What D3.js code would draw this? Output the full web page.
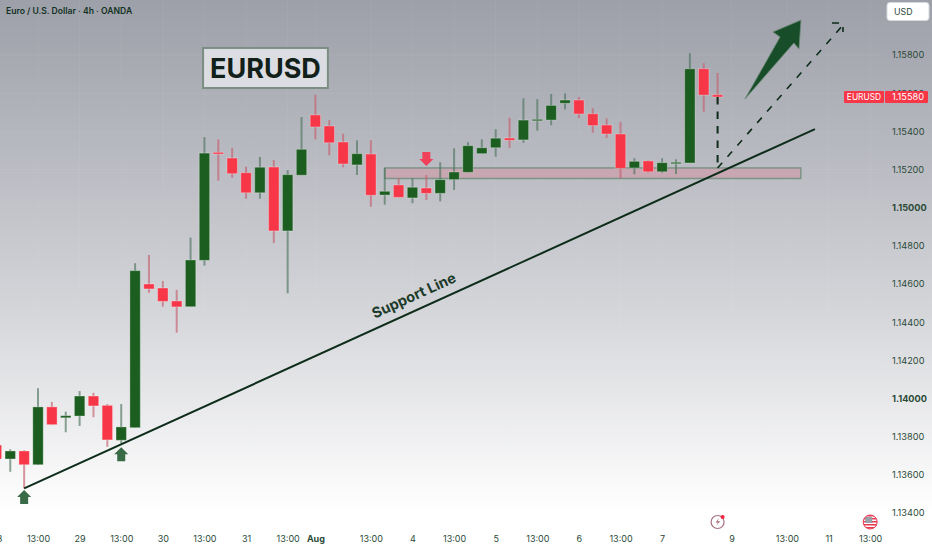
<!DOCTYPE html>
<html>
<head>
<meta charset="utf-8">
<script src="https://cdn.jsdelivr.net/npm/d3@7"></script>
<style>
  html, body { margin: 0; padding: 0; background: #fff; overflow: hidden; }
  svg { display: block; font-family: Inter, "Noto Sans", sans-serif; }
</style>
</head>
<body>
<div class="graph"></div>
<script>
const width = 932;
const height = 550;

// candles, EURUSD 4h, index 0 is the bar under the "28" label
const opens = [1.13756, 1.13683, 1.13725, 1.13653, 1.13956, 1.13899, 1.13908, 1.14013, 1.13964, 1.13781,
  1.13847, 1.146, 1.14579, 1.14511, 1.14481, 1.14724, 1.1529, 1.1526, 1.15183, 1.15078,
  1.15213, 1.14878, 1.1517, 1.15486, 1.15428, 1.15344, 1.15224, 1.15281, 1.15066, 1.15119,
  1.15051, 1.15103, 1.15075, 1.15147, 1.15185, 1.15283, 1.15314, 1.15365, 1.15355, 1.15456,
  1.15459, 1.15547, 1.15564, 1.15492, 1.15433, 1.15386, 1.15208, 1.15245, 1.15188, 1.15234,
  1.15234, 1.15728, 1.15592];
const closes = [1.13683, 1.13725, 1.13653, 1.13956, 1.13863, 1.1391, 1.14013, 1.13961, 1.13783, 1.13851,
  1.1467, 1.14574, 1.14509, 1.1448, 1.14726, 1.15286, 1.15281, 1.15178, 1.15078, 1.15212,
  1.14878, 1.15173, 1.15306, 1.15423, 1.1534, 1.15229, 1.15283, 1.15065, 1.15086, 1.15054,
  1.15107, 1.15075, 1.15147, 1.15187, 1.15325, 1.15314, 1.15364, 1.15353, 1.15459, 1.15463,
  1.15536, 1.15564, 1.15491, 1.1543, 1.15386, 1.15206, 1.15243, 1.15188, 1.15236, 1.15238,
  1.15728, 1.1559, 1.1558];
const highs = [1.13756, 1.13734, 1.13729, 1.14054, 1.13982, 1.13931, 1.14039, 1.1403, 1.13971, 1.13971,
  1.14709, 1.14752, 1.14616, 1.14569, 1.14843, 1.1537, 1.15358, 1.15313, 1.15215, 1.15266,
  1.1525, 1.15197, 1.15475, 1.15592, 1.15459, 1.15388, 1.15353, 1.15353, 1.15208, 1.15154,
  1.15154, 1.15171, 1.15238, 1.15311, 1.15343, 1.15358, 1.15411, 1.15471, 1.15573, 1.15569,
  1.15596, 1.15599, 1.1558, 1.15521, 1.15468, 1.1545, 1.15259, 1.15248, 1.15259, 1.15253,
  1.15809, 1.15757, 1.15706];
const lows = [1.13667, 1.13616, 1.13529, 1.13653, 1.13863, 1.13823, 1.13856, 1.13902, 1.13747, 1.13765,
  1.13847, 1.14554, 1.14481, 1.14345, 1.14481, 1.14696, 1.15141, 1.15157, 1.15047, 1.15047,
  1.14815, 1.14551, 1.1517, 1.15358, 1.15274, 1.15212, 1.15171, 1.15005, 1.15016, 1.15054,
  1.15023, 1.1504, 1.15033, 1.15093, 1.15185, 1.15283, 1.15267, 1.15314, 1.1534, 1.15403,
  1.15432, 1.15515, 1.1547, 1.15393, 1.15365, 1.15154, 1.15175, 1.15183, 1.15183, 1.15176,
  1.15234, 1.15503, 1.15548];

// axis ticks
const timeTicks = [0, 3, 6, 9, 12, 15, 18, 21, 23, 27, 30, 33, 36, 39, 42, 45, 48, 53, 57, 60, 63];
const timeLabels = ['28', '13:00', '29', '13:00', '30', '13:00', '31', '13:00', 'Aug', '13:00', '4', '13:00', '5',
  '13:00', '6', '13:00', '7', '9', '13:00', '11', '13:00'];
const priceTicks = [1.134, 1.136, 1.138, 1.14, 1.142, 1.144, 1.146, 1.148, 1.15, 1.152, 1.154, 1.156, 1.158];
const boldPrices = [1.14, 1.15];
const lastPrice = 1.1558;

// drawings, [bar index, price]
const supportLine = [[2, 1.13529], [59.02, 1.15412]];
const supportLabel = [30.25, 1.14516];
const zoneX = [28, 58];
const zonePrice = [1.15208, 1.15153];
const dropLine = [[52, 1.1558], [52, 1.15208]];
const targetLine = [[52, 1.15208], [61.04, 1.15957]];
const targetHead = [[60.25, 1.15968], [61.04, 1.15968], [61.04, 1.15921]];
const bigArrow = [[53.97, 1.15569], [56.5, 1.15894], [55.99, 1.15921], [58.01, 1.15983], [57.87, 1.15831], [57.5, 1.15863]];
const titleBoxX = [14.9, 23.9];
const titleBoxPrice = [1.15837, 1.15627];
const markers = [
  {i: 2, price: 1.13521, dir: 1},
  {i: 9, price: 1.13744, dir: 1},
  {i: 31, price: 1.15218, dir: -1}
];

const green = '#1b5e20';
const red = '#f73648';
const ink = '#0d2c1a';
const axisInk = '#2b4a38';

const x = d3.scaleLinear().domain([0, 52]).range([-3.6, 717.6]);
const y = d3.scaleLinear().domain([1.134, 1.158]).range([513, 55]);
const pathLine = d3.line().x(d => x(d[0])).y(d => y(d[1]));

const svg = d3.select('.graph').append('svg')
  .attr('width', width)
  .attr('height', height);

// background
const defs = svg.append('defs');
const grad = defs.append('linearGradient')
  .attr('id', 'bg')
  .attr('x1', 0).attr('y1', 0).attr('x2', 0).attr('y2', 1);
grad.append('stop').attr('offset', '0%').attr('stop-color', '#9d9fa9');
grad.append('stop').attr('offset', '55%').attr('stop-color', '#d3d4d8');
grad.append('stop').attr('offset', '93%').attr('stop-color', '#ffffff');
svg.append('rect').attr('width', width).attr('height', height).attr('fill', 'url(#bg)');

// faint grid
const grid = svg.append('g').attr('stroke', '#ffffff').attr('stroke-opacity', 0.05);
grid.selectAll('.gx').data(timeTicks).join('line')
  .attr('x1', d => x(d)).attr('x2', d => x(d))
  .attr('y1', 0).attr('y2', 530);
grid.selectAll('.gy').data(priceTicks).join('line')
  .attr('x1', 0).attr('x2', 885)
  .attr('y1', d => y(d)).attr('y2', d => y(d));

// zone under the candles
svg.append('rect')
  .attr('x', x(zoneX[0]))
  .attr('y', y(zonePrice[0]))
  .attr('width', x(zoneX[1]) - x(zoneX[0]))
  .attr('height', y(zonePrice[1]) - y(zonePrice[0]))
  .attr('fill', '#c9a7b2')
  .attr('stroke', '#7c9486')
  .attr('stroke-width', 1.5);

// candles
const candles = d3.range(opens.length);
const isUp = i => closes[i] >= opens[i];
svg.append('g').selectAll('line').data(candles).join('line')
  .attr('x1', d => x(d)).attr('x2', d => x(d))
  .attr('y1', d => y(highs[d])).attr('y2', d => y(lows[d]))
  .attr('stroke', d => isUp(d) ? '#4f7560' : '#c4606f')
  .attr('stroke-opacity', 0.65)
  .attr('stroke-width', 2);
svg.append('g').selectAll('rect').data(candles).join('rect')
  .attr('x', d => x(d) - 5.2)
  .attr('width', 10.4)
  .attr('y', d => y(Math.max(opens[d], closes[d])))
  .attr('height', d => Math.max(1.5, Math.abs(y(opens[d]) - y(closes[d]))))
  .attr('fill', d => isUp(d) ? green : red)
  .attr('stroke', '#ffffff')
  .attr('stroke-opacity', 0.3)
  .attr('stroke-width', 1);

// support line and its label
svg.append('path')
  .attr('d', pathLine(supportLine))
  .attr('fill', 'none')
  .attr('stroke', ink)
  .attr('stroke-width', 2);
const supportAngle = Math.atan2(y(supportLine[1][1]) - y(supportLine[0][1]), x(supportLine[1][0]) - x(supportLine[0][0])) * 180 / Math.PI;
svg.append('text')
  .attr('transform', `translate(${x(supportLabel[0])},${y(supportLabel[1])}) rotate(${supportAngle})`)
  .attr('text-anchor', 'middle')
  .attr('font-size', 14.5)
  .attr('font-weight', 700)
  .attr('fill', '#1c3a2a')
  .text('Support Line');

// dashed projection
svg.append('path')
  .attr('d', pathLine(dropLine))
  .attr('fill', 'none')
  .attr('stroke', ink)
  .attr('stroke-width', 2)
  .attr('stroke-dasharray', '7.5 7');
[targetLine, targetHead].forEach(pts => {
  svg.append('path')
    .attr('d', pathLine(pts))
    .attr('fill', 'none')
    .attr('stroke', ink)
    .attr('stroke-width', 1.6)
    .attr('stroke-dasharray', '7 8');
});

// big arrow
svg.append('path')
  .attr('d', pathLine(bigArrow) + 'Z')
  .attr('fill', '#174d29')
  .attr('stroke', '#6f8a78')
  .attr('stroke-width', 0.8);

// small arrows
const arrowShape = [[0, 0], [7, 7], [4, 7], [4, 14], [-4, 14], [-4, 7], [-7, 7]];
svg.append('g').selectAll('path').data(markers).join('path')
  .attr('transform', d => `translate(${x(d.i)},${y(d.price)}) scale(1,${d.dir})`)
  .attr('d', d3.line()(arrowShape) + 'Z')
  .attr('fill', d => d.dir > 0 ? '#3a6b47' : '#f0405a');

// title box
svg.append('rect')
  .attr('x', x(titleBoxX[0]))
  .attr('y', y(titleBoxPrice[0]))
  .attr('width', x(titleBoxX[1]) - x(titleBoxX[0]))
  .attr('height', y(titleBoxPrice[1]) - y(titleBoxPrice[0]))
  .attr('fill', '#dcdde2')
  .attr('stroke', '#7b8e82')
  .attr('stroke-width', 2);
svg.append('text')
  .attr('x', (x(titleBoxX[0]) + x(titleBoxX[1])) / 2)
  .attr('y', (y(titleBoxPrice[0]) + y(titleBoxPrice[1])) / 2)
  .attr('dy', '.36em')
  .attr('text-anchor', 'middle')
  .attr('font-size', 27)
  .attr('font-weight', 700)
  .attr('fill', '#11211a')
  .text('EURUSD');

// header
svg.append('text')
  .attr('x', 6).attr('y', 14)
  .attr('font-size', 8.6)
  .attr('font-weight', 600)
  .attr('fill', '#12321f')
  .text('Euro / U.S. Dollar · 4h · OANDA');

// price axis
const yAxisG = svg.append('g')
  .attr('transform', 'translate(885,0)')
  .call(d3.axisRight(y).tickValues(priceTicks).tickSize(0).tickPadding(7).tickFormat(d3.format('.5f')));
yAxisG.select('.domain').remove();
yAxisG.selectAll('text')
  .attr('font-family', 'Inter')
  .attr('font-size', 9.2)
  .attr('fill', axisInk)
  .attr('font-weight', d => boldPrices.includes(d) ? 700 : 400);

// time axis
const xAxisG = svg.append('g')
  .attr('transform', 'translate(0,536)')
  .call(d3.axisBottom(x).tickValues(timeTicks).tickSize(0).tickPadding(0).tickFormat((d, i) => timeLabels[i]));
xAxisG.select('.domain').remove();
xAxisG.selectAll('text')
  .attr('font-family', 'Inter')
  .attr('font-size', 9)
  .attr('fill', axisInk)
  .attr('font-weight', d => d === 23 ? 700 : 400);

// last price tags
const lastY = y(lastPrice);
svg.append('rect').attr('x', 844).attr('y', lastY - 6).attr('width', 40).attr('height', 12).attr('rx', 1).attr('fill', red);
svg.append('rect').attr('x', 885).attr('y', lastY - 6).attr('width', 43).attr('height', 12).attr('rx', 1).attr('fill', red);
svg.append('text').attr('x', 864).attr('y', lastY).attr('dy', '.35em').attr('text-anchor', 'middle')
  .attr('font-size', 8.4).attr('fill', '#fff').text('EURUSD');
svg.append('text').attr('x', 892).attr('y', lastY).attr('dy', '.35em')
  .attr('font-size', 9.2).attr('fill', '#fff').text(d3.format('.5f')(lastPrice));

// currency button
svg.append('rect').attr('x', 887).attr('y', 2.5).attr('width', 42).attr('height', 18).attr('rx', 3)
  .attr('fill', '#fff').attr('stroke', '#d8d9dd');
svg.append('text').attr('x', 894).attr('y', 11.5).attr('dy', '.35em')
  .attr('font-size', 8.8).attr('fill', axisInk).text('USD');

// bottom icons
const iconBolt = svg.append('g').attr('transform', `translate(${x(52)},522)`);
iconBolt.append('circle').attr('r', 6.5).attr('fill', 'none').attr('stroke', '#a8707f').attr('stroke-width', 1.2);
iconBolt.append('path').attr('d', 'M1.5 -4 L-2 0.5 L0.5 0.5 L-1.5 4 L2.5 -0.8 L0 -0.8 Z').attr('fill', '#a8606f');
iconBolt.append('circle').attr('cx', 5).attr('cy', -5).attr('r', 2).attr('fill', '#f7233d');

const iconFlag = svg.append('g').attr('transform', `translate(${x(63)},522)`);
defs.append('clipPath').attr('id', 'flagClip').append('circle').attr('r', 7);
const flagInner = iconFlag.append('g').attr('clip-path', 'url(#flagClip)');
flagInner.append('rect').attr('x', -7).attr('y', -7).attr('width', 14).attr('height', 14).attr('fill', '#fff');
flagInner.selectAll('rect.s').data(d3.range(-7, 7, 3)).join('rect')
  .attr('class', 's')
  .attr('x', -7).attr('y', d => d).attr('width', 14).attr('height', 1.5)
  .attr('fill', '#e8384f');
flagInner.append('rect').attr('x', -5).attr('y', -5).attr('width', 7).attr('height', 6).attr('fill', '#9a9ea6');
iconFlag.append('circle').attr('r', 7).attr('fill', 'none').attr('stroke', '#e8384f').attr('stroke-width', 1);
</script>
</body>
</html>
